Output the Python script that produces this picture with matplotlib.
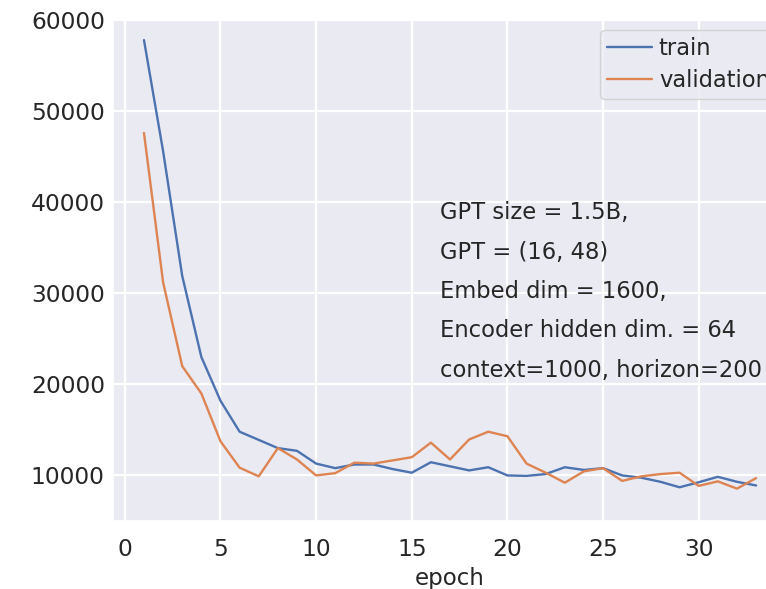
import numpy as np
import matplotlib
matplotlib.use("Agg")
import matplotlib.pyplot as plt
import seaborn as sns

# loss per epoch
epochs = np.arange(1, 34)
train = [57800, 45600, 31900, 23000, 18200, 14800, 13900, 13000, 12700, 11300,
         10800, 11200, 11200, 10700, 10300, 11450, 11000, 10550, 10900, 10000,
         9950, 10150, 10900, 10600, 10800, 10000, 9750, 9300, 8700, 9250,
         9850, 9300, 8900]
validation = [47600, 31200, 22000, 19000, 13750, 10850, 9900, 13000, 11750, 10000,
              10250, 11400, 11300, 11650, 12000, 13600, 11750, 13950, 14800, 14300,
              11300, 10300, 9200, 10450, 10800, 9400, 9900, 10150, 10300, 8850,
              9350, 8550, 9700]

info_lines = ["GPT size = 1.5B,",
              "GPT = (16, 48)",
              "Embed dim = 1600,",
              "Encoder hidden dim. = 64",
              "context=1000, horizon=200"]

sns.set_theme(style="darkgrid")
plt.rcParams['font.family'] = ['DejaVu Sans']

fig = plt.figure(figsize=(7.66, 5.89), dpi=100)
# the reference is cropped on the right, so the axes run past the figure edge
ax = fig.add_axes([0.148, 0.1155, 0.879, 0.8505])

ax.plot(epochs, train, label="train", lw=1.7)
ax.plot(epochs, validation, label="validation", lw=1.7)

ax.set_xlim(-0.6, 34.6)
ax.set_ylim(5000, 60000)
ax.set_xticks([0, 5, 10, 15, 20, 25, 30])
ax.set_yticks([10000, 20000, 30000, 40000, 50000, 60000])
ax.tick_params(labelsize=16.8, colors='.15')
ax.tick_params(axis='x', pad=6.5)
ax.tick_params(axis='y', pad=0.2)
ax.grid(lw=1.6)
ax.set_xlabel("epoch", fontsize=16.5, color='.15', labelpad=3.8)

ax.text(16.5, 40100, "\n".join(info_lines), fontsize=16.3, color='.15',
        ha='left', va='top', linespacing=1.91)

leg = ax.legend(loc="upper left", fontsize=16.3, borderaxespad=0,
                bbox_to_anchor=(600 / 766, 1 - 30 / 589),
                bbox_transform=fig.transFigure,
                handletextpad=0.3, labelspacing=0.4, borderpad=0.3)

fig.savefig("out.png", dpi=100)
